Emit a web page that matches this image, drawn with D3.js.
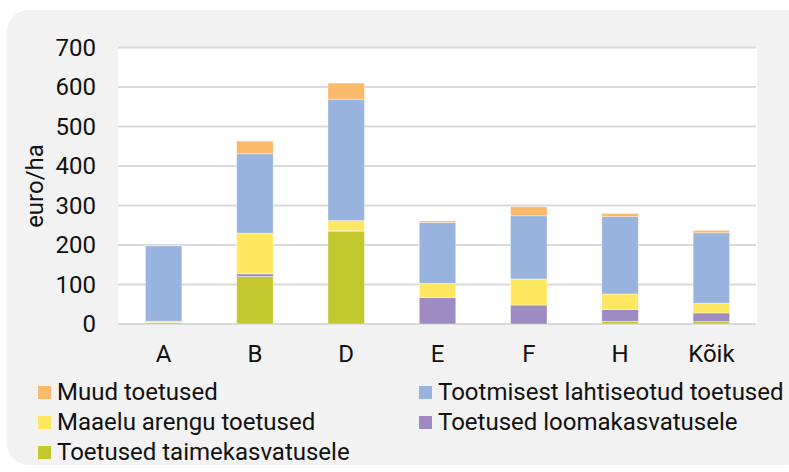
<!DOCTYPE html>
<html>
<head>
<meta charset="utf-8">
<script src="https://cdn.jsdelivr.net/npm/d3@7"></script>
<style>
  body { margin: 0; background: #fff; }
  svg { display: block; font-family: Roboto, "Noto Sans", sans-serif; }
</style>
</head>
<body>
<svg id="chart" width="789" height="472"></svg>
<script>
var categories = ["A", "B", "D", "E", "F", "H", "Kõik"];
// stacked bottom -> top
var taime = [4, 120, 235, 0, 0, 7, 6];
var looma = [0, 7, 1, 67, 48, 30, 22];
var maaelu = [3, 103, 26, 36, 66, 39, 25];
var tootmisest = [191, 201, 307, 154, 160, 196, 178];
var muud = [1, 32, 41, 4, 23, 8, 6];
var yTicks = [0, 100, 200, 300, 400, 500, 600, 700];

var seriesNames = ["Toetused taimekasvatusele", "Toetused loomakasvatusele", "Maaelu arengu toetused", "Tootmisest lahtiseotud toetused", "Muud toetused"];
var seriesValues = [taime, looma, maaelu, tootmisest, muud];
var colors = ["#c3c82f", "#9e8bc2", "#ffe761", "#98b4de", "#fab96b"];

var svg = d3.select("#chart");
var plotLeft = 118, plotRight = 757, plotTop = 48, plotBottom = 324;
var fontSize = 24;

// background card
svg.append("rect")
    .attr("x", 7).attr("y", 10)
    .attr("width", 800).attr("height", 455)
    .attr("rx", 22)
    .attr("fill", "#f2f2f2");

svg.append("rect")
    .attr("x", plotLeft).attr("y", plotTop)
    .attr("width", plotRight - plotLeft).attr("height", plotBottom - plotTop)
    .attr("fill", "#fff");

var x = d3.scaleBand()
    .domain(categories)
    .range([plotLeft, plotRight])
    .paddingInner(0.6)
    .paddingOuter(0.3);

var y = d3.scaleLinear()
    .domain([0, 700])
    .range([plotBottom, plotTop - 0.5]);

// gridlines
svg.append("g")
    .selectAll("line")
    .data(yTicks)
    .join("line")
    .attr("x1", plotLeft).attr("x2", plotRight - 1)
    .attr("y1", d => y(d)).attr("y2", d => y(d))
    .attr("stroke", "#d9d9d9")
    .attr("stroke-width", 2);

// stacks
var table = categories.map(function (c, i) {
    var row = { cat: c };
    seriesNames.forEach(function (s, j) { row[s] = seriesValues[j][i]; });
    return row;
});
var stacked = d3.stack().keys(seriesNames)(table);

svg.append("g")
    .selectAll("g")
    .data(stacked)
    .join("g")
    .attr("fill", (d, i) => colors[i])
    .selectAll("rect")
    .data(d => d)
    .join("rect")
    .attr("x", d => x(d.data.cat))
    .attr("y", d => y(d[1]))
    .attr("width", x.bandwidth())
    .attr("height", d => Math.max(0, y(d[0]) - y(d[1])))
    .attr("stroke", "#ffffff")
    .attr("stroke-opacity", 0.5)
    .attr("stroke-width", 0.75);

// y axis labels
var yAxis = d3.axisLeft(y).tickValues(yTicks).tickSize(0).tickPadding(0);
var gy = svg.append("g")
    .attr("transform", "translate(96,0)")
    .call(yAxis);
gy.select(".domain").remove();
gy.selectAll("text")
    .attr("font-family", "Roboto, sans-serif")
    .attr("font-size", fontSize)
    .attr("fill", "#111");

// x axis labels
var xAxis = d3.axisBottom(x).tickSize(0).tickPadding(0);
var gx = svg.append("g")
    .attr("transform", "translate(0,345)")
    .call(xAxis);
gx.select(".domain").remove();
gx.selectAll("text")
    .attr("font-family", "Roboto, sans-serif")
    .attr("font-size", fontSize)
    .attr("fill", "#111");

// y title
svg.append("text")
    .attr("transform", "translate(43,186) rotate(-90)")
    .attr("text-anchor", "middle")
    .attr("font-size", fontSize)
    .attr("fill", "#111")
    .text("euro/ha");

// legend
var legendItems = [
    { name: "Muud toetused", color: colors[4], x: 38, y: 392 },
    { name: "Tootmisest lahtiseotud toetused", color: colors[3], x: 419, y: 392 },
    { name: "Maaelu arengu toetused", color: colors[2], x: 38, y: 422 },
    { name: "Toetused loomakasvatusele", color: colors[1], x: 419, y: 422 },
    { name: "Toetused taimekasvatusele", color: colors[0], x: 38, y: 452 }
];
var lg = svg.append("g")
    .selectAll("g")
    .data(legendItems)
    .join("g")
    .attr("transform", d => "translate(" + d.x + "," + d.y + ")");
lg.append("rect")
    .attr("x", 0).attr("y", -6)
    .attr("width", 13).attr("height", 13)
    .attr("fill", d => d.color);
lg.append("text")
    .attr("x", 19).attr("y", 0)
    .attr("dy", "0.35em")
    .attr("font-size", fontSize)
    .attr("fill", "#111")
    .text(d => d.name);
</script>
</body>
</html>
